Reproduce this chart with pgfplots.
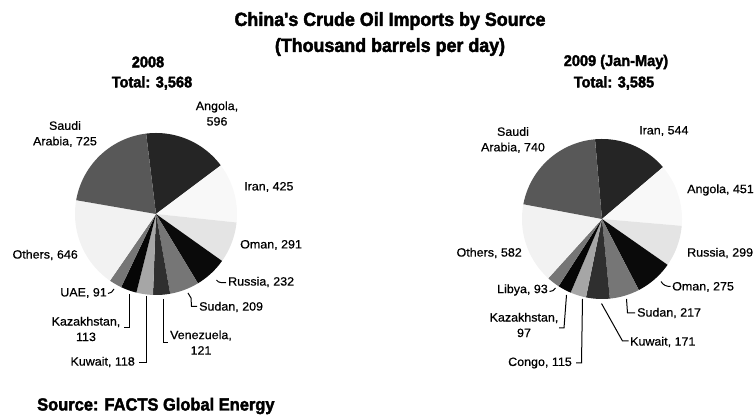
\documentclass[border=0pt]{standalone}
\usepackage{pgfplots}
\pgfplotsset{compat=1.18}
\usepackage{fontspec}
\setmainfont{Liberation Sans}
\newfontfamily\titlefont{Liberation Sans}[FakeStretch=0.94, FakeBold=2.2]
\newfontfamily\labfont{Liberation Sans}[FakeBold=0.6, FakeStretch=1.04]
\definecolor{c1}{HTML}{252525}
\definecolor{c2}{HTML}{F8F8F8}
\definecolor{c3}{HTML}{E4E4E4}
\definecolor{c4}{HTML}{0A0A0A}
\definecolor{c5}{HTML}{767676}
\definecolor{c6}{HTML}{2F2F2F}
\definecolor{c7}{HTML}{A6A6A6}
\definecolor{c8}{HTML}{060606}
\definecolor{c9}{HTML}{767676}
\definecolor{c10}{HTML}{F2F2F2}
\definecolor{c11}{HTML}{585858}
\tikzset{
  lab/.style={font=\labfont\fontsize{12}{15.5}\selectfont, inner sep=0pt, align=center},
  ttl/.style={font=\titlefont\bfseries\fontsize{19}{22}\selectfont, inner sep=0pt},
  sub/.style={font=\titlefont\bfseries\fontsize{15.5}{18}\selectfont, inner sep=0pt},
  src/.style={font=\titlefont\bfseries\fontsize{17.5}{20}\selectfont, inner sep=0pt},
  lead/.style={black, line width=1pt}}
% pie state: centre x, centre y, radius, current angle, degrees per unit
\newcommand\piestart[5]{\gdef\pcx{#1}\gdef\pcy{#2}\gdef\pr{#3}\gdef\pang{#4}%
  \pgfmathsetmacro\tmpscale{360/#5}\global\let\pscale\tmpscale}
\newcommand\pieslice[2]{% value, colour
  \pgfmathsetmacro\aend{\pang-#1*\pscale}%
  \edef\temp{\noexpand\addplot[draw=none,fill=#2,domain=\aend:\pang,samples=60,variable=\noexpand\t]
    ({\pcx+\pr*cos(\noexpand\t)},{\pcy+\pr*sin(\noexpand\t)}) -- (axis cs:\pcx,\pcy) -- cycle;}%
  \temp
  \global\let\pang\aend}
\begin{document}
\begin{tikzpicture}
\useasboundingbox (0,0) rectangle (755pt,417pt);
\begin{axis}[at={(0,0)}, anchor=south west, x=1pt, y=1pt,
  xmin=0, xmax=755, ymin=0, ymax=417, hide axis, clip=false]
% ---- 2008 ----
\piestart{156}{203}{81}{97}{3567}
\pieslice{596}{c1}  % Angola
\pieslice{425}{c2}  % Iran
\pieslice{291}{c3}  % Oman
\pieslice{232}{c4}  % Russia
\pieslice{209}{c5}  % Sudan
\pieslice{121}{c6}  % Venezuela
\pieslice{118}{c7}  % Kuwait
\pieslice{113}{c8}  % Kazakhstan
\pieslice{91}{c9}   % UAE
\pieslice{646}{c10} % Others
\pieslice{725}{c11} % Saudi Arabia
% ---- 2009 ----
\piestart{602}{198}{80}{95}{3584}
\pieslice{544}{c1}  % Iran
\pieslice{451}{c2}  % Angola
\pieslice{299}{c3}  % Russia
\pieslice{275}{c4}  % Oman
\pieslice{217}{c5}  % Sudan
\pieslice{171}{c6}  % Kuwait
\pieslice{115}{c7}  % Congo
\pieslice{97}{c8}   % Kazakhstan
\pieslice{93}{c9}   % Libya
\pieslice{582}{c10} % Others
\pieslice{740}{c11} % Saudi Arabia
% ---- titles ----
\node[ttl] at (axis cs:390,396) {China's Crude Oil Imports by Source};
\node[ttl] at (axis cs:390,370) {(Thousand barrels per day)};
\node[sub] at (axis cs:148,355) {2008};
\node[sub] at (axis cs:152,334) {Total: 3,568};
\node[sub] at (axis cs:616,355) {2009 (Jan-May)};
\node[sub] at (axis cs:614,334) {Total: 3,585};
\node[src, anchor=west] at (axis cs:37,11) {Source: FACTS Global Energy};
% ---- labels 2008 ----
\node[lab] at (axis cs:65,283) {Saudi\\Arabia, 725};
\node[lab] at (axis cs:217,303.5) {Angola,\\596};
\node[lab, anchor=west] at (axis cs:244,230) {Iran, 425};
\node[lab, anchor=west] at (axis cs:240,172) {Oman, 291};
\node[lab, anchor=west] at (axis cs:228,135) {Russia, 232};
\draw[lead] (axis cs:216.5,137) to[out=-60,in=180] (axis cs:226,134.5);
\node[lab, anchor=west] at (axis cs:199,110) {Sudan, 209};
\draw[lead] (axis cs:188,124) -- (axis cs:191,119) -- (axis cs:191.5,110.5) -- (axis cs:197,110.5);
\node[lab] at (axis cs:201,74.5) {Venezuela,\\121};
\draw[lead] (axis cs:163,118) -- (axis cs:163,74) -- (axis cs:168,74);
\node[lab, anchor=east] at (axis cs:135,55) {Kuwait, 118};
\draw[lead] (axis cs:146,121) -- (axis cs:146,54) -- (axis cs:139,54);
\node[lab] at (axis cs:86,88) {Kazakhstan,\\113};
\draw[lead] (axis cs:129,123) -- (axis cs:129,89) -- (axis cs:124,89);
\node[lab, anchor=east] at (axis cs:107,124) {UAE, 91};
\draw[lead] (axis cs:108,123.5) to[out=0,in=-120] (axis cs:114,128);
\node[lab, anchor=east] at (axis cs:78,162) {Others, 646};
% ---- labels 2009 ----
\node[lab] at (axis cs:513,277) {Saudi\\Arabia, 740};
\node[lab, anchor=west] at (axis cs:639,286) {Iran, 544};
\node[lab, anchor=west] at (axis cs:687,227) {Angola, 451};
\node[lab, anchor=west] at (axis cs:687,164) {Russia, 299};
\node[lab, anchor=west] at (axis cs:672,130) {Oman, 275};
\draw[lead] (axis cs:661,135.5) to[out=-60,in=180] (axis cs:670.5,130.5);
\node[lab, anchor=west] at (axis cs:637,104) {Sudan, 217};
\draw[lead] (axis cs:626.5,118) -- (axis cs:627.5,104) -- (axis cs:635,104);
\node[lab, anchor=west] at (axis cs:630,75) {Kuwait, 171};
\draw[lead] (axis cs:601.5,113.5) -- (axis cs:622.5,76) -- (axis cs:628.5,76);
\node[lab, anchor=east] at (axis cs:572,54) {Congo, 115};
\draw[lead] (axis cs:582.5,118) -- (axis cs:581.5,54) -- (axis cs:576,54);
\node[lab] at (axis cs:524,92) {Kazakhstan,\\97};
\draw[lead] (axis cs:566.5,122) -- (axis cs:564,89) -- (axis cs:559,89);
\node[lab, anchor=east] at (axis cs:548,127) {Libya, 93};
\draw[lead] (axis cs:549.5,125.5) to[out=0,in=-120] (axis cs:555.5,129);
\node[lab, anchor=east] at (axis cs:522,164) {Others, 582};
\end{axis}
\end{tikzpicture}
\end{document}
